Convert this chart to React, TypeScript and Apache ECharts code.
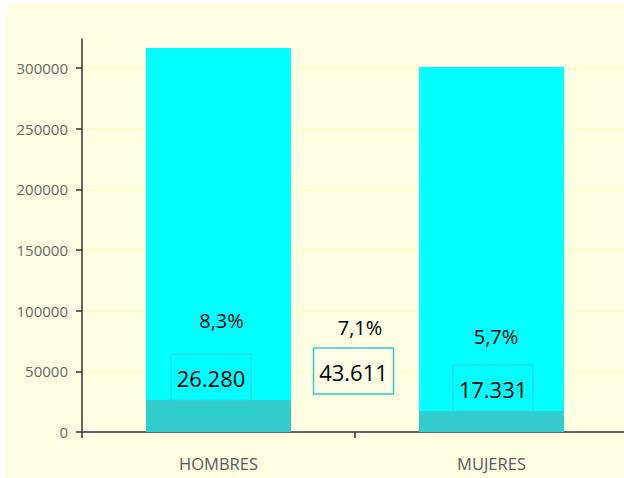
import React, { useEffect, useRef } from 'react';
import * as echarts from 'echarts';

const categories = ['HOMBRES', 'MUJERES'];
const totals = [316500, 301000];
const parados = [26280, 17331];
const totalParados = 43611;
const pctLabels = ['8,3%', '5,7%'];
const pctTotal = '7,1%';
const tickValues = [0, 50000, 100000, 150000, 200000, 250000, 300000];

const fmt = (n: number) => String(n).replace(/\B(?=(\d{3})+(?!\d))/g, '.');

const FONT = 'Open Sans';

export default function App() {
  const ref = useRef<HTMLDivElement>(null);
  useEffect(() => {
    if (!ref.current) return;
    const chart = echarts.init(ref.current, undefined, { renderer: 'svg' });
    chart.setOption({
      animation: false,
      grid: { left: 82, top: 39, width: 546, height: 393, containLabel: false, outerBoundsMode: 'none' },
      xAxis: {
        type: 'category',
        data: categories,
        axisLine: { show: true, lineStyle: { color: '#666', width: 2 } },
        axisTick: { show: true, alignWithLabel: false, length: 6, lineStyle: { color: '#333', width: 1.5 } },
        axisLabel: { color: '#5a5a5a', fontFamily: FONT, fontSize: 16.5, margin: 23 },
      },
      yAxis: {
        type: 'value',
        min: 0,
        max: 324000,
        interval: 50000,
        axisLine: { show: true, lineStyle: { color: '#333', width: 1.5 } },
        axisTick: { show: true, length: 6, customValues: tickValues, lineStyle: { color: '#333', width: 1.5 } },
        axisLabel: {
          color: '#666',
          fontFamily: FONT,
          fontSize: 15,
          margin: 14,
          customValues: tickValues,
          formatter: (v: number) => String(v),
        },
        splitLine: { show: true, lineStyle: { color: '#ffffc4', width: 1.5 } },
      },
      series: [
        {
          type: 'bar',
          data: totals,
          barWidth: 145,
          barGap: '-100%',
          itemStyle: { color: '#00ffff' },
          silent: true,
        },
        {
          type: 'bar',
          data: parados,
          barWidth: 145,
          barGap: '-100%',
          itemStyle: { color: '#33cccc' },
          silent: true,
        },
      ],
    });

    const cx = categories.map((c) => chart.convertToPixel({ xAxisIndex: 0 }, c) as number);
    const zeroY = chart.convertToPixel({ yAxisIndex: 0 }, 0) as number;
    const barTop = parados.map((v) => chart.convertToPixel({ yAxisIndex: 0 }, v) as number);
    const midX = (cx[0] + cx[1]) / 2;
    const boxW = 80;
    const boxH = 46;
    const boxDx = [-7.5, 1.5];
    const pctDx = [3, 4.5];
    const pctDy = [112, 96];

    const graphics: any[] = [
      {
        type: 'rect',
        z: -10,
        silent: true,
        shape: { x: 6, y: 3, width: 618, height: 475 },
        style: { fill: '#ffffe4' },
      },
    ];
    categories.forEach((_, i) => {
      const bx = cx[i] + boxDx[i] - boxW / 2;
      const by = barTop[i] - boxH;
      graphics.push({
        type: 'rect',
        z: 10,
        shape: { x: bx, y: by, width: boxW, height: boxH },
        style: { fill: '#00ffff', stroke: '#2fd6d6', lineWidth: 1 },
      });
      graphics.push({
        type: 'text',
        z: 11,
        x: bx + boxW / 2,
        y: by + boxH / 2 + 1,
        style: { text: fmt(parados[i]), fill: '#000', font: `22px "${FONT}"`, textAlign: 'center', textVerticalAlign: 'middle' },
      });
      graphics.push({
        type: 'text',
        z: 11,
        x: cx[i] + pctDx[i],
        y: zeroY - pctDy[i],
        style: { text: pctLabels[i], fill: '#000', font: `20px "${FONT}"`, textAlign: 'center', textVerticalAlign: 'middle' },
      });
    });
    const mbx = midX - 1.5 - boxW / 2;
    const mby = zeroY - 84;
    graphics.push({
      type: 'rect',
      z: 10,
      shape: { x: mbx, y: mby, width: boxW, height: boxH },
      style: { fill: '#ffffe8', stroke: '#33cccc', lineWidth: 1.5 },
    });
    graphics.push({
      type: 'text',
      z: 11,
      x: mbx + boxW / 2,
      y: mby + boxH / 2 + 1,
      style: { text: fmt(totalParados), fill: '#000', font: `22px "${FONT}"`, textAlign: 'center', textVerticalAlign: 'middle' },
    });
    graphics.push({
      type: 'text',
      z: 11,
      x: midX + 5,
      y: zeroY - 105,
      style: { text: pctTotal, fill: '#000', font: `20px "${FONT}"`, textAlign: 'center', textVerticalAlign: 'middle' },
    });
    chart.setOption({ graphic: { elements: graphics } });

    return () => chart.dispose();
  }, []);
  return (
    <div
      ref={ref}
      style={{ position: 'fixed', left: 0, top: 0, width: 624, height: 478, background: '#ffffff' }}
    />
  );
}
